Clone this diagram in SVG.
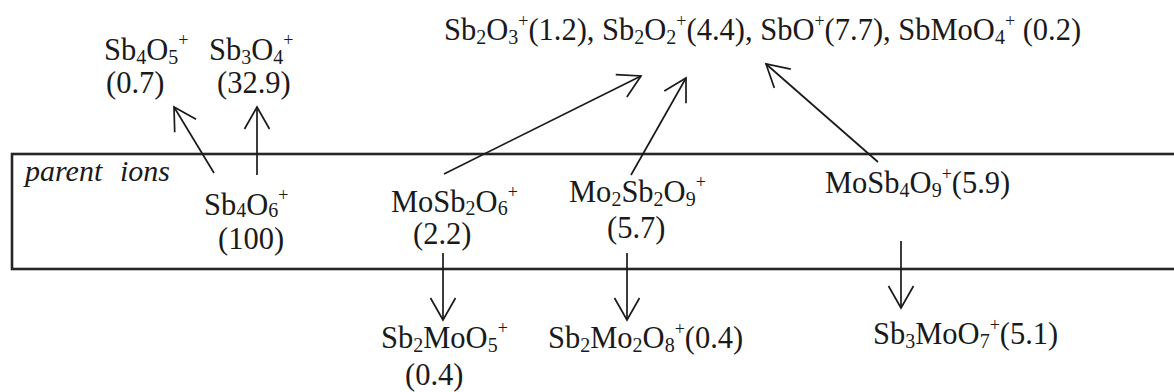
<svg xmlns="http://www.w3.org/2000/svg" width="1174" height="392" viewBox="0 0 1174 392">
<style>
text{font-family:"Liberation Serif","Times New Roman",serif;font-size:30.5px;fill:#1a1a1a}
.sub{font-size:20px}
.sup{font-size:18px}
.it{font-style:italic;font-size:30px}
.conn line{stroke:#1a1a1a;stroke-width:1.7;fill:none}
.box{fill:none;stroke:#262626;stroke-width:2.6}
</style>
<defs>
<marker id="ah" markerUnits="userSpaceOnUse" markerWidth="40" markerHeight="40" viewBox="-30 -20 40 40" refX="0" refY="0" orient="auto" overflow="visible">
<path d="M-22,-12.5 L0,0 L-22,12.5" fill="none" stroke="#1a1a1a" stroke-width="1.7"/>
</marker>
</defs>
<rect width="1174" height="392" fill="#fff"/>
<g id="parent-box">
<rect class="box" x="12" y="154" width="1190" height="115"/>
<text class="it" x="25" y="181">parent<tspan x="120">ions</tspan></text>
</g>
<g id="top-products">
<text x="444" y="40">Sb<tspan class="sub" dy="4">2</tspan><tspan dy="-4">O</tspan><tspan class="sub" dy="4">3</tspan><tspan class="sup" dy="-17">+</tspan><tspan dy="13">(1.2), Sb</tspan><tspan class="sub" dy="4">2</tspan><tspan dy="-4">O</tspan><tspan class="sub" dy="4">2</tspan><tspan class="sup" dy="-17">+</tspan><tspan dy="13">(4.4), SbO</tspan><tspan class="sup" dy="-13">+</tspan><tspan dy="13">(7.7), SbMoO</tspan><tspan class="sub" dy="4">4</tspan><tspan class="sup" dy="-17">+</tspan><tspan dy="13"> (0.2)</tspan></text>
</g>
<g id="Sb4O5">
<text x="104" y="60">Sb<tspan class="sub" dy="4">4</tspan><tspan dy="-4">O</tspan><tspan class="sub" dy="4">5</tspan><tspan class="sup" dy="-18">+</tspan></text>
<text x="106" y="93">(0.7)</text>
</g>
<g id="Sb3O4">
<text x="209" y="60">Sb<tspan class="sub" dy="4">3</tspan><tspan dy="-4">O</tspan><tspan class="sub" dy="4">4</tspan><tspan class="sup" dy="-18">+</tspan></text>
<text x="217" y="93">(32.9)</text>
</g>
<g id="Sb4O6">
<text x="204" y="215">Sb<tspan class="sub" dy="2">4</tspan><tspan dy="-2">O</tspan><tspan class="sub" dy="2">6</tspan><tspan class="sup" dy="-16">+</tspan></text>
<text x="218" y="249">(100)</text>
</g>
<g id="MoSb2O6">
<text x="391" y="212">MoSb<tspan class="sub" dy="3">2</tspan><tspan dy="-3">O</tspan><tspan class="sub" dy="3">6</tspan><tspan class="sup" dy="-17">+</tspan></text>
<text x="413" y="244">(2.2)</text>
</g>
<g id="Mo2Sb2O9">
<text x="569" y="202">Mo<tspan class="sub" dy="4">2</tspan><tspan dy="-4">Sb</tspan><tspan class="sub" dy="4">2</tspan><tspan dy="-4">O</tspan><tspan class="sub" dy="4">9</tspan><tspan class="sup" dy="-18">+</tspan></text>
<text x="607" y="238">(5.7)</text>
</g>
<g id="MoSb4O9">
<text x="825" y="193">MoSb<tspan class="sub" dy="4">4</tspan><tspan dy="-4">O</tspan><tspan class="sub" dy="4">9</tspan><tspan class="sup" dy="-17">+</tspan><tspan dy="13">(5.9)</tspan></text>
</g>
<g id="Sb2MoO5">
<text x="381" y="348">Sb<tspan class="sub" dy="4">2</tspan><tspan dy="-4">MoO</tspan><tspan class="sub" dy="4">5</tspan><tspan class="sup" dy="-18">+</tspan></text>
<text x="405" y="385">(0.4)</text>
</g>
<g id="Sb2Mo2O8">
<text x="548" y="348">Sb<tspan class="sub" dy="4">2</tspan><tspan dy="-4">Mo</tspan><tspan class="sub" dy="4">2</tspan><tspan dy="-4">O</tspan><tspan class="sub" dy="4">8</tspan><tspan class="sup" dy="-17">+</tspan><tspan dy="13">(0.4)</tspan></text>
</g>
<g id="Sb3MoO7">
<text x="873" y="344">Sb<tspan class="sub" dy="4">3</tspan><tspan dy="-4">MoO</tspan><tspan class="sub" dy="4">7</tspan><tspan class="sup" dy="-17">+</tspan><tspan dy="13">(5.1)</tspan></text>
</g>
<g id="connectors" class="conn">
<line x1="214" y1="173" x2="174" y2="107" marker-end="url(#ah)"/>
<line x1="257" y1="175" x2="257" y2="107" marker-end="url(#ah)"/>
<line x1="444" y1="174" x2="641" y2="76" marker-end="url(#ah)"/>
<line x1="631" y1="175" x2="686" y2="78" marker-end="url(#ah)"/>
<line x1="878" y1="162" x2="766" y2="64" marker-end="url(#ah)"/>
<line x1="443" y1="253" x2="443" y2="320" marker-end="url(#ah)"/>
<line x1="627" y1="253" x2="627" y2="320" marker-end="url(#ah)"/>
<line x1="901" y1="241" x2="901" y2="308" marker-end="url(#ah)"/>
</g>
</svg>
